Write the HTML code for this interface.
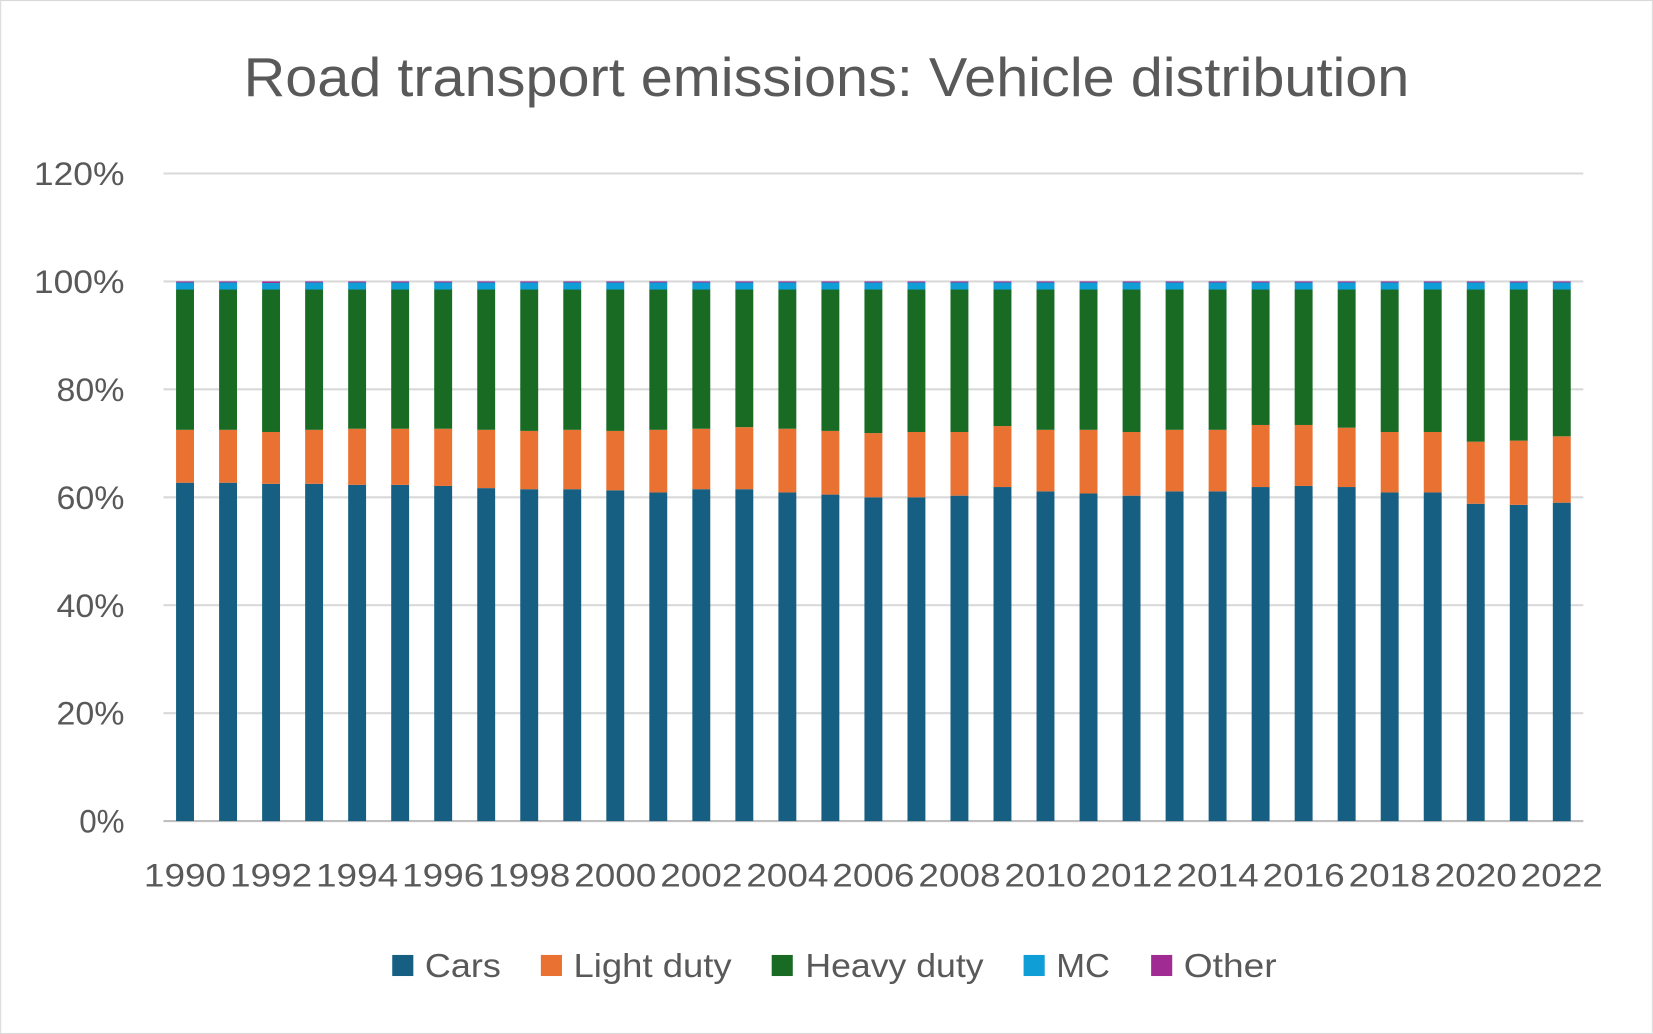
<!DOCTYPE html>
<html><head><meta charset="utf-8"><style>
html,body{margin:0;padding:0;background:#fff;}
svg{display:block;font-family:"Liberation Sans",sans-serif;}
</style></head><body>
<svg id="chart" width="1653" height="1034" viewBox="0 0 1568 981" xmlns="http://www.w3.org/2000/svg">
<rect x="0.5" y="0.5" width="1567" height="980" fill="#fff" stroke="#d9d9d9"/>
<text x="231" y="91" font-size="52" fill="#595959" textLength="1106" lengthAdjust="spacingAndGlyphs">Road transport emissions: Vehicle distribution</text>
<g id="grid"></g><g id="bars"></g><g id="ylabels"></g><g id="xlabels"></g>
<g font-size="32" fill="#595959">
<g><rect x="372" y="906" width="20" height="20" fill="#175f82"/><text x="403" y="927" textLength="72" lengthAdjust="spacingAndGlyphs">Cars</text></g>
<g><rect x="513" y="906" width="20" height="20" fill="#e97132"/><text x="544" y="927" textLength="150" lengthAdjust="spacingAndGlyphs">Light duty</text></g>
<g><rect x="732" y="906" width="20" height="20" fill="#196b24"/><text x="764" y="927" textLength="169" lengthAdjust="spacingAndGlyphs">Heavy duty</text></g>
<g><rect x="971" y="906" width="20" height="20" fill="#0f9ed5"/><text x="1002" y="927" textLength="51" lengthAdjust="spacingAndGlyphs">MC</text></g>
<g><rect x="1092" y="906" width="20" height="20" fill="#a02b93"/><text x="1123" y="927" textLength="88" lengthAdjust="spacingAndGlyphs">Other</text></g>
</g>
</svg>
<script>
const years=[1990,1991,1992,1993,1994,1995,1996,1997,1998,1999,2000,2001,2002,2003,2004,2005,2006,2007,2008,2009,2010,2011,2012,2013,2014,2015,2016,2017,2018,2019,2020,2021,2022];
const cars=[62.7,62.7,62.5,62.5,62.3,62.3,62.1,61.7,61.5,61.5,61.3,60.9,61.5,61.5,60.9,60.5,60.0,60.0,60.3,61.9,61.1,60.7,60.3,61.1,61.1,61.9,62.1,61.9,60.9,60.9,58.8,58.6,59.0];
const lightDuty=[9.8,9.8,9.6,10.0,10.4,10.4,10.6,10.8,10.8,11.0,11.0,11.6,11.2,11.5,11.8,11.8,11.9,12.1,11.8,11.3,11.4,11.8,11.8,11.4,11.4,11.5,11.3,11.0,11.2,11.2,11.5,11.9,12.3];
const heavyDuty=[26.0,26.0,26.4,26.0,25.8,25.8,25.8,26.0,26.2,26.0,26.2,26.0,25.8,25.5,25.8,26.2,26.6,26.4,26.4,25.3,26.0,26.0,26.4,26.0,26.0,25.1,25.1,25.6,26.4,26.4,28.2,28.0,27.2];
const mc=[1.3,1.3,1.2,1.3,1.3,1.3,1.3,1.3,1.3,1.3,1.3,1.3,1.3,1.3,1.3,1.3,1.3,1.3,1.3,1.3,1.3,1.3,1.3,1.3,1.3,1.3,1.3,1.3,1.3,1.3,1.3,1.3,1.3];
const other=[0.2,0.2,0.3,0.2,0.2,0.2,0.2,0.2,0.2,0.2,0.2,0.2,0.2,0.2,0.2,0.2,0.2,0.2,0.2,0.2,0.2,0.2,0.2,0.2,0.2,0.2,0.2,0.2,0.2,0.2,0.2,0.2,0.2];
const yTicks=[0,20,40,60,80,100,120];
const NS="http://www.w3.org/2000/svg";
const L=155,R=1502,Y0=779,Y100=267;
const y=v=>Y0-(Y0-Y100)*v/100;
const band=(R-L)/years.length;
const xc=i=>L+band*(i+0.5);
const bw=17;
function mk(tag,attrs,parent){const e=document.createElementNS(NS,tag);for(const k in attrs)e.setAttribute(k,attrs[k]);parent.appendChild(e);return e;}
const grid=document.getElementById('grid'),yl=document.getElementById('ylabels');
yTicks.forEach(t=>{
  const ln=mk('line',{x1:L,x2:R,y1:y(t),y2:y(t),stroke:t===0?'#bfbfbf':'#d9d9d9','stroke-width':2},grid);
  
  
  const label=t+'%';
  const tx=mk('text',{x:118,y:y(t)+11,'text-anchor':'end','font-size':31,fill:'#595959',textLength:label.length*21.5,lengthAdjust:'spacingAndGlyphs'},yl);
  tx.textContent=label;
  
  
});
const series=[['cars',cars,'#175f82'],['light-duty',lightDuty,'#e97132'],['heavy-duty',heavyDuty,'#196b24'],['mc',mc,'#0f9ed5'],['other',other,'#a02b93']];
const bars=document.getElementById('bars'),xl=document.getElementById('xlabels');
years.forEach((yr,i)=>{
  let cum=0;
  series.forEach(([nm,arr,col])=>{
    const v=arr[i];
    const r=mk('rect',{x:xc(i)-bw/2,y:y(cum+v),width:bw,height:y(cum)-y(cum+v),fill:col},bars);
    
    
    cum+=v;
  });
  if(i%2===0){
    const tx=mk('text',{x:xc(i),y:841,'text-anchor':'middle','font-size':31,fill:'#595959',textLength:78,lengthAdjust:'spacingAndGlyphs'},xl);
    tx.textContent=yr;
    
    
  }
});
</script>
</body></html>
